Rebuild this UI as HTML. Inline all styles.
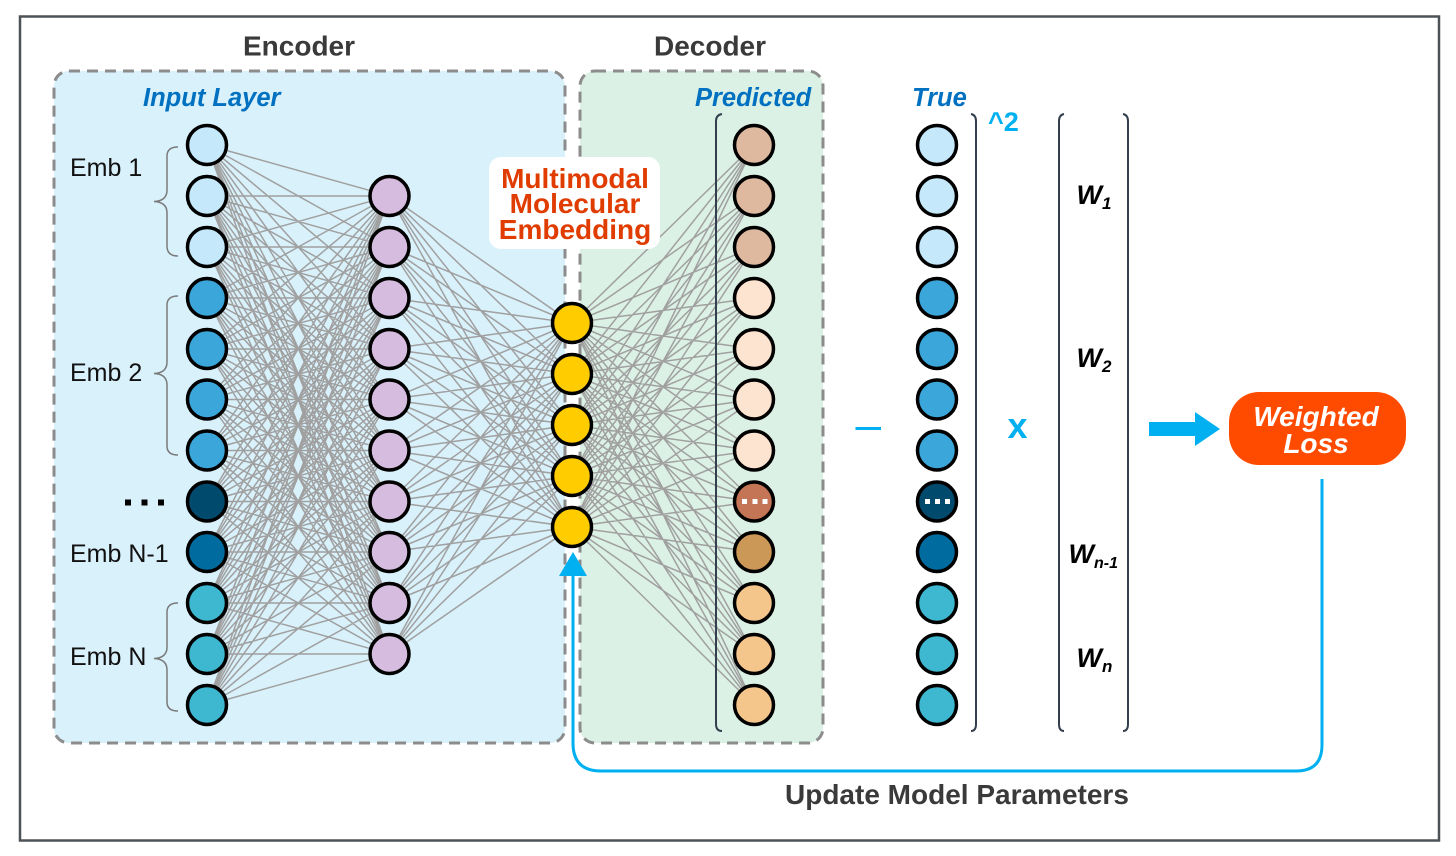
<!DOCTYPE html>
<html><head><meta charset="utf-8"><style>
html,body{margin:0;padding:0;background:#fff}
svg{display:block}
text{font-family:"Liberation Sans",sans-serif}
</style></head><body>
<svg id="s" xmlns="http://www.w3.org/2000/svg" width="1456" height="856" viewBox="0 0 1456 856">
<rect x="0" y="0" width="1456" height="856" fill="#fff"/>
<rect x="20" y="16.500" width="1419" height="824" fill="none" stroke="#4d5257" stroke-width="2.500"/>
<rect x="54" y="71" width="511" height="672" rx="15" fill="#d9f1fb" stroke="#8c8c8c" stroke-width="3" stroke-dasharray="11 7"/>
<rect x="580" y="71" width="243" height="672" rx="15" fill="#dcf1e6" stroke="#8c8c8c" stroke-width="3" stroke-dasharray="11 7"/>
<g id="lines" fill="none" stroke="#a0a0a0" stroke-width="1.500"></g>
<rect x="489" y="157" width="171" height="92" rx="12" fill="#fff"/>
<g fill="#e03c00" font-weight="700" font-size="28" text-anchor="middle">
<text x="575" y="188">Multimodal</text><text x="575" y="213">Molecular</text><text x="575" y="239">Embedding</text></g>
<g fill="none" stroke="#333f4d" stroke-width="2">
<path d="M722 114Q716 115 716 121V724Q716 731 722 731"/>
<path d="M971 114Q976 115 976 121V724Q976 731 971 731"/>
<path d="M1064 114Q1059 115 1059 121V724Q1059 731 1064 731"/>
<path d="M1123 114Q1128 115 1128 121V724Q1128 731 1123 731"/>
</g>
<g fill="none" stroke="#7a7a7a" stroke-width="1.500">
<path d="M178 147Q167 147 167 156V190Q167 201 154 201.500Q167 202 167 213V246Q167 256 178 256"/>
<path d="M178 296Q167 296 167 305V362Q167 373 154 373.500Q167 374 167 385V446Q167 455 178 455"/>
<path d="M178 603Q167 603 167 612V647Q167 658 154 658.500Q167 659 167 670V702Q167 711 178 711"/>
</g>
<g id="nodes" stroke="#000" stroke-width="3.500"></g>
<g fill="#fff">
<rect x="742" y="499" width="5" height="5"/><rect x="752.500" y="499" width="5" height="5"/><rect x="762.500" y="499" width="5" height="5"/>
<rect x="925" y="499" width="5" height="5"/><rect x="935" y="499" width="5" height="5"/><rect x="945" y="499" width="5" height="5"/>
</g>
<g fill="#000"><rect x="125" y="499.500" width="6" height="6"/><rect x="141.500" y="499.500" width="6" height="6"/><rect x="158" y="499.500" width="6" height="6"/></g>
<g fill="#3a3a3a" font-weight="700" font-size="28">
<text x="299" y="55.500" text-anchor="middle">Encoder</text>
<text x="710" y="55.500" text-anchor="middle">Decoder</text>
<text x="785" y="804">Update Model Parameters</text>
</g>
<g fill="#0070c0" font-weight="700" font-style="italic" font-size="25.500">
<text x="143" y="106">Input Layer</text>
<text x="695" y="106">Predicted</text>
<text x="912" y="106">True</text>
</g>
<g fill="#111" font-size="25">
<text x="70" y="176">Emb 1</text><text x="70" y="381">Emb 2</text><text x="70" y="562">Emb N-1</text><text x="70" y="665">Emb N</text>
</g>
<g fill="#000" font-weight="700" font-style="italic" font-size="27">
<text x="1076.500" y="204">W<tspan font-size="17" dy="5">1</tspan></text>
<text x="1076.500" y="367">W<tspan font-size="17" dy="5">2</tspan></text>
<text x="1068.500" y="563">W<tspan font-size="16" dy="5">n-1</tspan></text>
<text x="1076.500" y="667">W<tspan font-size="17" dy="5">n</tspan></text>
</g>
<g fill="#00b0f0" font-weight="700">
<text x="988" y="131" font-size="27">^2</text>
<text x="1017.500" y="438" font-size="36" text-anchor="middle">x</text>
</g>
<rect x="855.500" y="427" width="25.500" height="3" fill="#00b0f0"/>
<path d="M1149 422H1195V412L1220 429L1195 446V436H1149Z" fill="#00b0f0"/>
<rect x="1229" y="392" width="177" height="73" rx="30" fill="#ff4b00"/>
<g fill="#fff" font-weight="700" font-style="italic" font-size="28" text-anchor="middle">
<text x="1316" y="426">Weighted</text><text x="1316" y="453">Loss</text></g>
<path d="M1322 479V745Q1322 771 1296 771H601Q573 771 573 743V570" fill="none" stroke="#00b0f0" stroke-width="3"/>
<path d="M573 552L587 576H559Z" fill="#00b0f0"/>
</svg>
<script>
var S="http://www.w3.org/2000/svg",Y=[145,196,247,298,349,399.5,450.5,501.5,552,603,654,705];
var mid=Y.slice(1,11),lat=[323,374,425,476,527];
var d="";
function c(ax,ay,bx,by){ay.forEach(function(a){by.forEach(function(b){d+="M"+ax+" "+a+"L"+bx+" "+b})})}
c(207,Y,389.5,mid);c(389.5,mid,572,lat);c(572,lat,754,Y);
var p=document.createElementNS(S,"path");p.setAttribute("d",d);document.getElementById("lines").appendChild(p);
var ni=["#c5e8fa","#c5e8fa","#c5e8fa","#3ba6d9","#3ba6d9","#3ba6d9","#3ba6d9","#004a6e","#006b9e","#3eb7d0","#3eb7d0","#3eb7d0"];
var no=["#deb9a0","#deb9a0","#deb9a0","#fde4d0","#fde4d0","#fde4d0","#fde4d0","#c47555","#cb9857","#f5c68c","#f5c68c","#f5c68c"];
var g=document.getElementById("nodes");
function n(x,y,f){var e=document.createElementNS(S,"circle");e.setAttribute("cx",x);e.setAttribute("cy",y);e.setAttribute("r",19.5);e.setAttribute("fill",f);g.appendChild(e)}
Y.forEach(function(y,i){n(207,y,ni[i]);n(754,y,no[i]);n(937,y,ni[i])});
mid.forEach(function(y){n(389.5,y,"#d6bcdf")});
lat.forEach(function(y){n(572,y,"#ffcc00")});
</script>
</body></html>
